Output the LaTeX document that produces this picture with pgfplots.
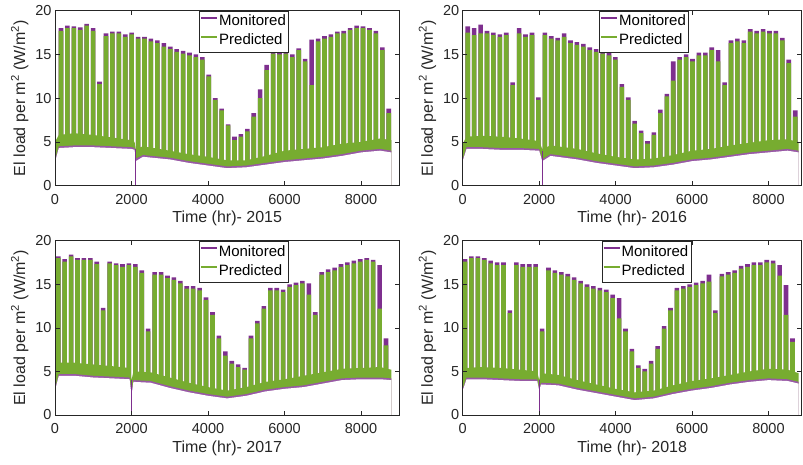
\documentclass[border=0pt]{standalone}
\usepackage{fontspec}
\setmainfont{Liberation Sans}
\usepackage{pgfplots}
\usepackage{pgfplotstable}
\pgfplotsset{compat=1.18}

\definecolor{mpurple}{RGB}{126,47,142}
\definecolor{mgreen}{RGB}{119,172,48}
\definecolor{axgray}{RGB}{38,38,38}

% weekly weekday blocks: centre hour, predicted peak (g), monitored peak (m)
\pgfplotstableread{
x g m
156 17.7 18.0
324 18.0 18.3
492 18.0 18.2
660 17.8 18.1
828 18.3 18.5
996 17.7 18.0
1164 11.6 11.9
1332 17.1 17.4
1500 17.4 17.6
1668 17.4 17.6
1836 17.0 17.3
2004 17.3 17.5
2172 16.8 17.0
2340 16.8 17.0
2508 16.5 16.8
2676 16.3 16.6
2844 15.9 16.3
3012 15.6 15.9
3180 15.3 15.6
3348 15.1 15.4
3516 14.9 15.2
3684 14.7 15.0
3852 14.4 14.7
4020 12.5 12.7
4188 9.8 10.0
4356 8.6 8.8
4524 6.9 7.0
4692 5.2 5.6
4860 5.6 5.9
5028 6.2 6.5
5196 7.9 8.3
5364 10.0 11.0
5532 13.2 13.8
5700 15.1 15.3
5868 15.0 15.2
6036 15.1 15.4
6204 14.7 15.0
6372 15.5 15.7
6540 14.2 14.5
6708 11.5 16.7
6876 16.5 16.8
7044 16.8 17.1
7212 17.0 17.3
7380 17.4 17.6
7548 17.4 17.7
7716 17.8 18.0
7884 18.0 18.3
8052 18.0 18.2
8220 17.8 18.0
8388 17.4 17.7
8556 15.5 15.8
8724 8.3 8.8
}\barsA
\pgfplotstableread{
x g m
132 17.5 18.2
300 17.2 18.0
468 17.4 18.4
636 17.4 17.7
804 17.2 17.5
972 17.0 17.3
1140 17.2 17.5
1308 11.5 11.8
1476 17.4 18.0
1644 17.0 17.3
1812 17.2 17.5
1980 9.8 10.1
2148 17.2 17.5
2316 16.8 17.1
2484 16.6 16.9
2652 17.0 17.4
2820 16.3 16.6
2988 16.1 16.4
3156 15.9 16.2
3324 15.5 15.8
3492 15.3 15.6
3660 15.1 15.4
3828 14.9 15.2
3996 14.4 14.7
4164 11.3 11.6
4332 9.8 10.1
4500 7.1 7.4
4668 6.0 6.3
4836 4.8 5.1
5004 5.8 6.1
5172 8.3 8.7
5340 10.2 10.5
5508 12.0 14.2
5676 14.4 14.7
5844 14.7 15.0
6012 14.2 14.5
6180 14.9 15.2
6348 14.9 15.2
6516 15.5 15.8
6684 14.2 15.5
6852 11.5 11.8
7020 16.3 16.6
7188 16.5 16.8
7356 16.3 16.6
7524 17.6 17.9
7692 17.4 17.7
7860 17.6 17.9
8028 17.4 17.7
8196 17.4 17.7
8364 16.6 16.9
8532 14.0 14.4
8700 7.9 8.6
}\barsB
\pgfplotstableread{
x g m
84 18.0 18.2
252 17.6 17.9
420 18.2 18.4
588 17.8 18.0
756 17.8 18.0
924 17.8 18.0
1092 17.3 17.6
1260 12.0 12.3
1428 17.4 17.6
1596 17.2 17.4
1764 17.0 17.3
1932 17.2 17.4
2100 17.0 17.3
2268 16.3 16.6
2436 9.6 9.9
2604 16.1 16.4
2772 16.1 16.4
2940 15.7 16.0
3108 15.5 15.8
3276 15.1 15.4
3444 14.5 14.8
3612 14.5 14.8
3780 14.3 14.6
3948 13.2 13.5
4116 11.5 11.8
4284 8.8 9.1
4452 6.8 7.3
4620 5.9 6.2
4788 5.5 5.8
4956 5.2 5.4
5124 8.8 9.1
5292 10.5 10.8
5460 12.2 12.5
5628 14.3 14.6
5796 14.3 14.6
5964 14.1 14.4
6132 14.7 15.0
6300 14.9 15.2
6468 15.1 15.4
6636 13.8 15.1
6804 11.5 11.8
6972 16.1 16.4
7140 16.4 16.7
7308 16.6 16.9
7476 17.0 17.3
7644 17.2 17.5
7812 17.4 17.7
7980 17.6 17.9
8148 17.8 18.0
8316 17.6 17.8
8484 12.2 17.2
8652 8.0 8.8
}\barsC
\pgfplotstableread{
x g m
60 17.6 17.9
228 18.0 18.2
396 18.0 18.2
564 17.8 18.0
732 17.4 17.7
900 17.2 17.5
1068 17.2 17.5
1236 11.7 12.0
1404 17.2 17.5
1572 17.0 17.3
1740 17.0 17.3
1908 17.0 17.3
2076 9.6 9.9
2244 16.6 16.9
2412 16.3 16.6
2580 16.1 16.4
2748 15.9 16.2
2916 15.5 15.8
3084 15.1 15.4
3252 14.7 15.0
3420 14.5 14.8
3588 14.3 14.6
3756 14.1 14.4
3924 13.4 13.8
4092 11.1 13.4
4260 9.6 9.9
4428 7.3 7.6
4596 5.4 5.7
4764 5.0 5.3
4932 5.9 6.2
5100 7.6 7.9
5268 9.9 10.2
5436 12.0 12.3
5604 14.3 14.6
5772 14.5 14.8
5940 14.7 15.0
6108 14.9 15.2
6276 15.1 15.4
6444 15.3 16.1
6612 11.7 12.0
6780 15.9 16.2
6948 16.1 16.4
7116 16.3 16.6
7284 16.8 17.1
7452 17.0 17.3
7620 17.2 17.5
7788 17.2 17.5
7956 17.5 17.8
8124 17.4 17.7
8292 16.0 17.2
8460 11.5 14.9
8628 8.4 8.8
}\barsD

% night / weekend band: monitored low, predicted low, predicted high
\pgfplotstableread{
x mlo glo ghi
0 2.7 2.9 5.0
100 4.3 4.5 5.8
500 4.4 4.6 6.0
1000 4.4 4.6 5.8
1500 4.3 4.5 5.5
2000 4.2 4.4 5.2
2080 4.1 4.3 5.0
2110 2.8 3.1 4.2
2300 3.3 3.5 4.5
3000 3.0 3.2 4.0
3500 2.6 2.8 3.6
4000 2.3 2.5 3.3
4500 2.0 2.2 2.9
5000 2.1 2.3 2.9
5500 2.4 2.6 3.4
6000 2.7 2.9 4.0
6500 2.9 3.1 4.2
7000 3.1 3.3 4.4
7500 3.4 3.6 4.8
8000 3.8 4.0 5.0
8500 4.0 4.2 5.4
8790 3.8 4.0 5.2
}\bandA
\pgfplotstableread{
x mlo glo ghi
0 2.8 3.0 4.8
100 4.2 4.4 5.6
500 4.2 4.4 5.7
1000 4.1 4.3 5.6
1500 4.1 4.3 5.4
2000 4.0 4.2 5.1
2080 2.8 3.0 4.2
2300 3.4 3.6 4.6
3000 3.0 3.2 4.2
3500 2.6 2.8 3.7
4000 2.3 2.5 3.3
4500 2.0 2.2 3.0
5000 2.1 2.3 3.1
5500 2.4 2.6 3.5
6000 2.8 3.0 4.0
6500 3.0 3.2 4.2
7000 3.3 3.5 4.6
7500 3.6 3.8 4.9
8000 3.8 4.0 5.2
8500 4.0 4.2 5.3
8790 3.8 4.0 5.0
}\bandB
\pgfplotstableread{
x mlo glo ghi
0 2.8 3.0 5.5
100 4.5 4.7 6.0
500 4.5 4.7 6.0
1000 4.3 4.5 5.8
1500 4.2 4.4 5.6
1950 4.1 4.3 5.4
2000 2.2 2.5 4.0
2050 3.8 4.0 5.0
2500 3.7 3.9 4.9
3000 3.1 3.3 4.3
3500 2.6 2.8 3.7
4000 2.2 2.4 3.2
4500 1.9 2.1 2.8
5000 2.2 2.4 3.2
5500 2.7 2.9 3.8
6000 3.0 3.2 4.1
6500 3.2 3.4 4.5
7000 3.6 3.8 4.9
7500 4.0 4.2 5.3
8000 4.1 4.3 5.4
8500 4.1 4.3 5.5
8790 4.0 4.2 5.2
}\bandC
\pgfplotstableread{
x mlo glo ghi
0 2.8 3.0 4.5
100 4.1 4.3 5.4
500 4.1 4.3 5.5
1000 4.0 4.2 5.4
1500 3.9 4.1 5.2
1950 3.9 4.1 5.0
2000 2.8 3.0 4.0
2050 3.5 3.7 4.8
2500 3.4 3.6 4.6
3000 2.9 3.1 4.0
3500 2.5 2.7 3.5
4000 2.1 2.3 3.0
4500 1.7 1.9 2.6
5000 1.9 2.1 2.8
5500 2.4 2.6 3.4
6000 2.8 3.0 3.9
6500 3.1 3.3 4.2
7000 3.5 3.7 4.6
7500 3.8 4.0 5.0
8000 4.0 4.2 5.3
8500 3.9 4.1 5.2
8790 3.6 3.8 4.8
}\bandD

\pgfplotsset{
  panel/.style={
    scale only axis, xmin=0, ymin=0, ymax=20,
    xtick={0,2000,4000,6000,8000}, ytick={0,5,10,15,20},
    scaled x ticks=false,
    /pgf/number format/1000 sep={},
    /pgf/number format/assume math mode=true,
    axis on top,
    axis line style={draw=axgray, line width=0.6pt},
    tick style={draw=axgray, line width=0.6pt},
    major tick length=4.5pt,
    tick label style={font=\fontsize{14.5}{16}\selectfont, text=axgray},
    xticklabel shift=5pt,
    label style={font=\fontsize{16}{18}\selectfont, text=axgray},
    ylabel={El load per m\textsuperscript{2} (W/m\textsuperscript{2})},
    legend cell align=left,
    legend image code/.code={\draw[#1] (0pt,4pt) -- (16pt,4pt);},
    legend style={anchor=north west, draw=axgray, line width=0.6pt, fill=white,
      font=\fontsize{15}{17}\selectfont, inner xsep=1pt, inner ysep=1.5pt, row sep=0pt,
      nodes={inner sep=1.5pt, text height=12pt, text depth=4pt}},
  },
  wkbar/.style={ybar, bar width=120, bar shift=0pt, draw=none, forget plot},
}

\begin{document}
\begin{tikzpicture}
\useasboundingbox (0pt,0pt) rectangle (803pt,464pt);

\begin{axis}[panel, at={(55pt,278.3pt)}, anchor=south west, width=344.3pt, height=175pt,
    xmax=9000, xlabel={Time (hr)- 2015}, legend style={at={(0.419,1)}}]
  \addplot[wkbar, fill=mpurple] table[x=x, y=m] {\barsA};
  \addplot[wkbar, fill=mgreen] table[x=x, y=g] {\barsA};
  \addplot[draw=none, fill=mgreen, forget plot] table[x=x, y=ghi] {\bandA} \closedcycle;
  \addplot[draw=none, fill=mpurple!80, forget plot] table[x=x, y=glo] {\bandA} \closedcycle;
  \addplot[draw=none, fill=white, forget plot] table[x=x, y=mlo] {\bandA} \closedcycle;
  \addplot[mpurple, line width=0.8pt, forget plot] coordinates {(2113,0) (2113,4.2)};
  \addlegendimage{draw=mpurple, line width=1.1pt}\addlegendentry{Monitored}
  \addlegendimage{draw=mgreen, line width=1.1pt}\addlegendentry{Predicted}
\end{axis}

\begin{axis}[panel, at={(462.7pt,278.3pt)}, anchor=south west, width=339pt, height=175pt,
    xmax=8870, xlabel={Time (hr)- 2016}, legend style={at={(0.403,1)}}]
  \addplot[wkbar, fill=mpurple] table[x=x, y=m] {\barsB};
  \addplot[wkbar, fill=mgreen] table[x=x, y=g] {\barsB};
  \addplot[draw=none, fill=mgreen, forget plot] table[x=x, y=ghi] {\bandB} \closedcycle;
  \addplot[draw=none, fill=mpurple!80, forget plot] table[x=x, y=glo] {\bandB} \closedcycle;
  \addplot[draw=none, fill=white, forget plot] table[x=x, y=mlo] {\bandB} \closedcycle;
  \addplot[mpurple, line width=0.8pt, forget plot] coordinates {(2094,0) (2094,4.0)};
  \addlegendimage{draw=mpurple, line width=1.1pt}\addlegendentry{Monitored}
  \addlegendimage{draw=mgreen, line width=1.1pt}\addlegendentry{Predicted}
\end{axis}

\begin{axis}[panel, at={(55pt,49pt)}, anchor=south west, width=344.3pt, height=174.3pt,
    xmax=9000, xlabel={Time (hr)- 2017}, legend style={at={(0.418,1)}}]
  \addplot[wkbar, fill=mpurple] table[x=x, y=m] {\barsC};
  \addplot[wkbar, fill=mgreen] table[x=x, y=g] {\barsC};
  \addplot[draw=none, fill=mgreen, forget plot] table[x=x, y=ghi] {\bandC} \closedcycle;
  \addplot[draw=none, fill=mpurple!80, forget plot] table[x=x, y=glo] {\bandC} \closedcycle;
  \addplot[draw=none, fill=white, forget plot] table[x=x, y=mlo] {\bandC} \closedcycle;
  \addplot[mpurple, line width=0.8pt, forget plot] coordinates {(2000,0) (2000,4.0)};
  \addlegendimage{draw=mpurple, line width=1.1pt}\addlegendentry{Monitored}
  \addlegendimage{draw=mgreen, line width=1.1pt}\addlegendentry{Predicted}
\end{axis}

\begin{axis}[panel, at={(462.7pt,49pt)}, anchor=south west, width=339pt, height=174.3pt,
    xmax=8870, xlabel={Time (hr)- 2018}, legend style={at={(0.41,1)}}]
  \addplot[wkbar, fill=mpurple] table[x=x, y=m] {\barsD};
  \addplot[wkbar, fill=mgreen] table[x=x, y=g] {\barsD};
  \addplot[draw=none, fill=mgreen, forget plot] table[x=x, y=ghi] {\bandD} \closedcycle;
  \addplot[draw=none, fill=mpurple!80, forget plot] table[x=x, y=glo] {\bandD} \closedcycle;
  \addplot[draw=none, fill=white, forget plot] table[x=x, y=mlo] {\bandD} \closedcycle;
  \addplot[mpurple, line width=0.8pt, forget plot] coordinates {(1998,0) (1998,4.0)};
  \addlegendimage{draw=mpurple, line width=1.1pt}\addlegendentry{Monitored}
  \addlegendimage{draw=mgreen, line width=1.1pt}\addlegendentry{Predicted}
\end{axis}
\end{tikzpicture}
\end{document}
